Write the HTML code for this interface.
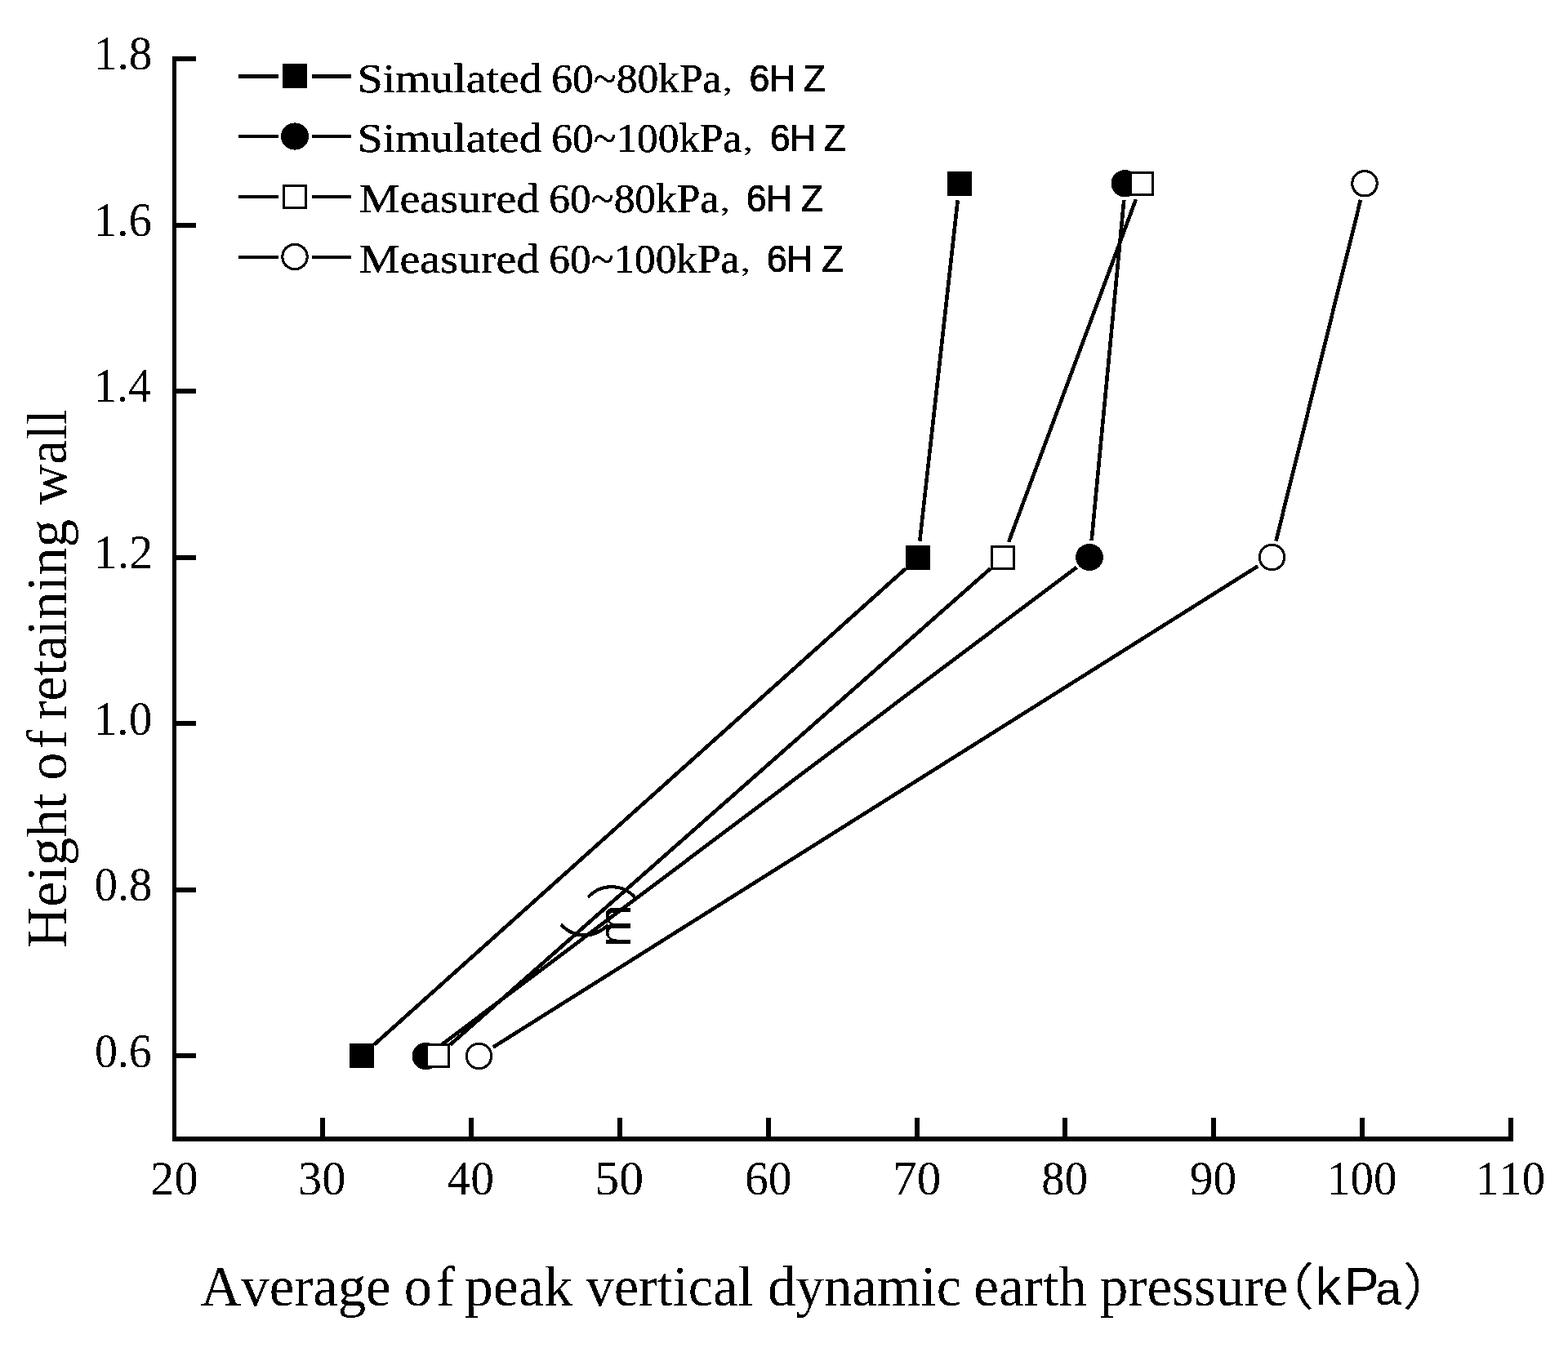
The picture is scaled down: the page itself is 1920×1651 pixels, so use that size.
<!DOCTYPE html>
<html lang="en">
<head>
<meta charset="utf-8">
<title>Average of peak vertical dynamic earth pressure</title>
<style>
html,body{margin:0;padding:0;background:#fff;}
body{width:1920px;height:1651px;overflow:hidden;}
svg{display:block;}
</style>
</head>
<body>
<svg width="1920" height="1651" viewBox="0 0 1920 1651">
<rect x="0" y="0" width="1920" height="1651" fill="#fff"/>
<g fill="#000" shape-rendering="crispEdges">
<rect x="211" y="69" width="5" height="1329"/>
<rect x="211" y="1392" width="1642" height="6"/>
<rect x="216" y="69" width="24" height="6"/>
<rect x="216" y="273" width="24" height="6"/>
<rect x="216" y="476" width="24" height="6"/>
<rect x="216" y="680" width="24" height="6"/>
<rect x="216" y="883" width="24" height="6"/>
<rect x="216" y="1087" width="24" height="6"/>
<rect x="216" y="1290" width="24" height="6"/>
<rect x="392" y="1369" width="6" height="23"/>
<rect x="574" y="1369" width="6" height="23"/>
<rect x="756" y="1369" width="6" height="23"/>
<rect x="938" y="1369" width="6" height="23"/>
<rect x="1120" y="1369" width="6" height="23"/>
<rect x="1301" y="1369" width="6" height="23"/>
<rect x="1483" y="1369" width="6" height="23"/>
<rect x="1665" y="1369" width="6" height="23"/>
<rect x="1847" y="1369" width="6" height="23"/>
</g>
<g shape-rendering="crispEdges">
<line x1="458.27" y1="1279.32" x2="1108.73" y2="696.68" stroke="#000" stroke-width="4.6"/>
<line x1="1126.27" y1="662.63" x2="1172.73" y2="245.37" stroke="#000" stroke-width="4.6"/>
<rect x="428" y="1278" width="30" height="30" fill="#000"/>
<rect x="1109" y="668" width="30" height="30" fill="#000"/>
<rect x="1160" y="210" width="30" height="30" fill="#000"/>
<line x1="538.58" y1="1281.18" x2="1318.32" y2="694.82" stroke="#000" stroke-width="4.6"/>
<line x1="1336.64" y1="662.09" x2="1376.26" y2="245.16" stroke="#000" stroke-width="4.6"/>
<ellipse cx="521.5" cy="1293.5" rx="17" ry="16.6" fill="#000"/>
<ellipse cx="1334" cy="682.5" rx="17" ry="16.6" fill="#000"/>
<ellipse cx="1377.5" cy="224.75" rx="17" ry="16.6" fill="#000"/>
<line x1="551.38" y1="1279.44" x2="1212.62" y2="696.56" stroke="#000" stroke-width="4.6"/>
<line x1="1235.13" y1="663.78" x2="1390.87" y2="244.22" stroke="#000" stroke-width="4.6"/>
<rect x="522.5" y="1279.5" width="27" height="27" fill="#fff" stroke="#000" stroke-width="3"/>
<rect x="1214.5" y="669.5" width="27" height="27" fill="#fff" stroke="#000" stroke-width="3"/>
<rect x="1384.5" y="211.5" width="27" height="27" fill="#fff" stroke="#000" stroke-width="3"/>
<line x1="603.85" y1="1282.58" x2="1540.15" y2="693.42" stroke="#000" stroke-width="4.6"/>
<line x1="1562.43" y1="662.60" x2="1666.07" y2="244.65" stroke="#000" stroke-width="4.6"/>
<circle cx="586.5" cy="1293.5" r="15.2" fill="#fff" stroke="#000" stroke-width="3.1"/>
<circle cx="1557.5" cy="682.5" r="15.2" fill="#fff" stroke="#000" stroke-width="3.1"/>
<circle cx="1671" cy="224.75" r="15.2" fill="#fff" stroke="#000" stroke-width="3.1"/>
</g>
<g shape-rendering="crispEdges">
<rect x="292" y="91" width="49" height="5" fill="#000"/>
<rect x="382" y="91" width="48" height="5" fill="#000"/>
<rect x="346" y="78" width="30" height="30" fill="#000"/>
<rect x="292" y="165" width="49" height="4" fill="#000"/>
<rect x="382" y="165" width="48" height="4" fill="#000"/>
<ellipse cx="361" cy="167" rx="17" ry="16.6" fill="#000"/>
<rect x="292" y="239" width="49" height="4" fill="#000"/>
<rect x="382" y="239" width="48" height="4" fill="#000"/>
<rect x="347.5" y="227.5" width="27" height="27" fill="#fff" stroke="#000" stroke-width="3"/>
<rect x="292" y="313" width="49" height="4" fill="#000"/>
<rect x="382" y="313" width="48" height="4" fill="#000"/>
<circle cx="361" cy="314.5" r="15.2" fill="#fff" stroke="#000" stroke-width="3.1"/>
</g>
<defs><filter id="bw" x="0" y="0" width="1920" height="1651" filterUnits="userSpaceOnUse" color-interpolation-filters="sRGB"><feComponentTransfer><feFuncA type="discrete" tableValues="0 1"/></feComponentTransfer></filter></defs>
<g fill="#000" style="font-kerning:none" filter="url(#bw)">
<text transform="translate(115.01,85.20) scale(0.9511,1.0000)" font-size="60" style='font-family:"Liberation Serif", serif'>1.8</text>
<text transform="translate(114.72,288.78) scale(0.9485,1.0000)" font-size="60" style='font-family:"Liberation Serif", serif'>1.6</text>
<text transform="translate(114.77,492.36) scale(0.9382,1.0000)" font-size="60" style='font-family:"Liberation Serif", serif'>1.4</text>
<text transform="translate(114.61,695.94) scale(0.9699,1.0000)" font-size="60" style='font-family:"Liberation Serif", serif'>1.2</text>
<text transform="translate(114.68,899.52) scale(0.9556,1.0000)" font-size="60" style='font-family:"Liberation Serif", serif'>1.0</text>
<text transform="translate(115.68,1103.10) scale(0.9418,1.0000)" font-size="60" style='font-family:"Liberation Serif", serif'>0.8</text>
<text transform="translate(115.90,1306.68) scale(0.9324,1.0000)" font-size="60" style='font-family:"Liberation Serif", serif'>0.6</text>
<text transform="translate(184.32,1463.40) scale(0.9727,1.0000)" font-size="60" style='font-family:"Liberation Serif", serif'>20</text>
<text transform="translate(365.08,1463.40) scale(0.9726,1.0000)" font-size="60" style='font-family:"Liberation Serif", serif'>30</text>
<text transform="translate(547.55,1463.40) scale(0.9602,1.0000)" font-size="60" style='font-family:"Liberation Serif", serif'>40</text>
<text transform="translate(728.27,1463.40) scale(0.9954,1.0000)" font-size="60" style='font-family:"Liberation Serif", serif'>50</text>
<text transform="translate(912.10,1463.40) scale(0.9593,1.0000)" font-size="60" style='font-family:"Liberation Serif", serif'>60</text>
<text transform="translate(1093.06,1463.40) scale(0.9860,1.0000)" font-size="60" style='font-family:"Liberation Serif", serif'>70</text>
<text transform="translate(1275.37,1463.40) scale(0.9459,1.0000)" font-size="60" style='font-family:"Liberation Serif", serif'>80</text>
<text transform="translate(1456.84,1463.40) scale(0.9552,1.0000)" font-size="60" style='font-family:"Liberation Serif", serif'>90</text>
<text transform="translate(1625.02,1463.40) scale(0.9485,1.0000)" font-size="60" style='font-family:"Liberation Serif", serif'>100</text>
<text transform="translate(1807.04,1463.40) scale(0.9455,1.0000)" font-size="60" style='font-family:"Liberation Serif", serif'>110</text>
<text transform="translate(245.52,1598.60) scale(0.9766,1.0000)" font-size="70.5" style='font-family:"Liberation Serif", serif'>Average</text>
<text transform="translate(0,1598.60) scale(0.9700,1.0000)" font-size="70.5" x="510.14 550.59" style='font-family:"Liberation Serif", serif'>of</text>
<text transform="translate(568.75,1598.60) scale(0.9962,1.0000)" font-size="70.5" style='font-family:"Liberation Serif", serif'>peak</text>
<text transform="translate(717.50,1598.60) scale(0.9702,1.0000)" font-size="70.5" style='font-family:"Liberation Serif", serif'>vertical</text>
<text transform="translate(940.06,1598.60) scale(0.9769,1.0000)" font-size="70.5" style='font-family:"Liberation Serif", serif'>dynamic</text>
<text transform="translate(1192.30,1598.60) scale(0.9836,1.0000)" font-size="70.5" style='font-family:"Liberation Serif", serif'>earth</text>
<text transform="translate(1346.77,1598.60) scale(0.9816,1.0000)" font-size="70.5" style='font-family:"Liberation Serif", serif'>pressure</text>
<text transform="translate(1539.40,1598.22) scale(0.9722,0.8557)" font-size="72" font-weight="350" style='font-family:"Noto Sans CJK SC", sans-serif'>（</text>
<text transform="translate(0,1598.20) scale(1.0100,1.0000)" font-size="64" x="1594.36 1629.40 1667.30" style='font-family:"Liberation Sans", sans-serif'>kP<tspan font-size="57">a</tspan></text>
<text transform="translate(1717.55,1598.22) scale(0.9278,0.8557)" font-size="72" font-weight="350" style='font-family:"Noto Sans CJK SC", sans-serif'>）</text>
<text transform="translate(81.10,1160.97) rotate(-90) scale(0.9868,1.0000)" font-size="70.5" style='font-family:"Liberation Serif", serif'>Height</text>
<text transform="translate(81.10,0) rotate(-90) scale(0.9700,1.0000)" font-size="70.5" x="-985.43 -945.03" style='font-family:"Liberation Serif", serif'>of</text>
<text transform="translate(81.10,881.77) rotate(-90) scale(0.9812,1.0000)" font-size="70.5" style='font-family:"Liberation Serif", serif'>retaining</text>
<text transform="translate(81.10,617.80) rotate(-90) scale(0.9617,1.0000)" font-size="70.5" style='font-family:"Liberation Serif", serif'>wall</text>
<text transform="translate(437.84,112.70) scale(1.1024,1.0000)" font-size="50.5" stroke="#000" stroke-width="0.4" style='font-family:"Liberation Serif", serif'>Simulated</text>
<text transform="translate(675.30,112.70) scale(1.0201,1.0000)" font-size="50.5" stroke="#000" stroke-width="0.4" style='font-family:"Liberation Serif", serif'>60~80kPa</text>
<text transform="translate(884.10,111.34) scale(0.8258,0.5806)" font-size="50" stroke="#000" stroke-width="0.5" style='font-family:"Noto Serif CJK SC", serif'>，</text>
<text transform="translate(0,111.80) scale(0.9500,1.0000)" font-size="47" stroke="#000" stroke-width="0.9" x="965.92 991.30 1035.55" style='font-family:"Liberation Sans", sans-serif'>6HZ</text>
<text transform="translate(437.84,185.70) scale(1.1024,1.0000)" font-size="50.5" stroke="#000" stroke-width="0.4" style='font-family:"Liberation Serif", serif'>Simulated</text>
<text transform="translate(675.31,185.70) scale(1.0168,1.0000)" font-size="50.5" stroke="#000" stroke-width="0.4" style='font-family:"Liberation Serif", serif'>60~100kPa</text>
<text transform="translate(909.10,184.34) scale(0.8258,0.5806)" font-size="50" stroke="#000" stroke-width="0.5" style='font-family:"Noto Serif CJK SC", serif'>，</text>
<text transform="translate(0,184.80) scale(0.9500,1.0000)" font-size="47" stroke="#000" stroke-width="0.9" x="992.24 1017.62 1061.87" style='font-family:"Liberation Sans", sans-serif'>6HZ</text>
<text transform="translate(439.84,259.60) scale(1.1071,1.0000)" font-size="50.5" stroke="#000" stroke-width="0.4" style='font-family:"Liberation Serif", serif'>Measured</text>
<text transform="translate(672.31,259.60) scale(1.0196,1.0000)" font-size="50.5" stroke="#000" stroke-width="0.4" style='font-family:"Liberation Serif", serif'>60~80kPa</text>
<text transform="translate(881.10,258.24) scale(0.8258,0.5806)" font-size="50" stroke="#000" stroke-width="0.5" style='font-family:"Noto Serif CJK SC", serif'>，</text>
<text transform="translate(0,258.70) scale(0.9500,1.0000)" font-size="47" stroke="#000" stroke-width="0.9" x="961.82 987.20 1032.50" style='font-family:"Liberation Sans", sans-serif'>6HZ</text>
<text transform="translate(439.84,333.80) scale(1.1071,1.0000)" font-size="50.5" stroke="#000" stroke-width="0.4" style='font-family:"Liberation Serif", serif'>Measured</text>
<text transform="translate(672.31,333.80) scale(1.0163,1.0000)" font-size="50.5" stroke="#000" stroke-width="0.4" style='font-family:"Liberation Serif", serif'>60~100kPa</text>
<text transform="translate(906.10,332.44) scale(0.8258,0.5806)" font-size="50" stroke="#000" stroke-width="0.5" style='font-family:"Noto Serif CJK SC", serif'>，</text>
<text transform="translate(0,332.90) scale(0.9500,1.0000)" font-size="47" stroke="#000" stroke-width="0.9" x="988.13 1013.51 1058.82" style='font-family:"Liberation Sans", sans-serif'>6HZ</text>
<text transform="translate(739.44,1193.79) rotate(-90) scale(0.9167,0.8689)" font-size="72" font-weight="350" style='font-family:"Noto Sans CJK SC", sans-serif'>（</text>
<text transform="translate(772.00,1160.19) rotate(-90) scale(1.0476,0.9612)" font-size="60" style='font-family:"Liberation Sans", sans-serif'>m</text>
<text transform="translate(772.44,1103.71) rotate(-90) scale(0.9167,0.8689)" font-size="72" font-weight="350" style='font-family:"Noto Sans CJK SC", sans-serif'>）</text>
</g>
</svg>
</body>
</html>
